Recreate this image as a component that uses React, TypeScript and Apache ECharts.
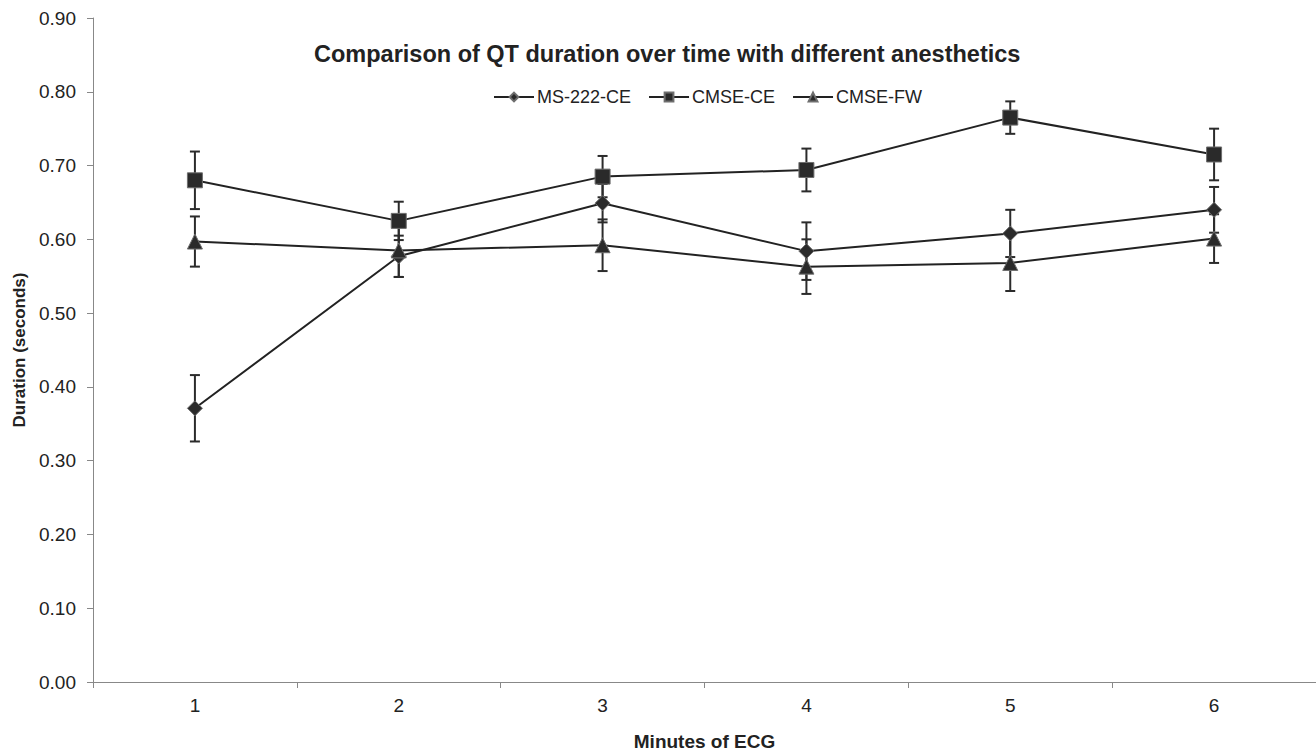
import React, { useEffect, useRef } from "react";
import * as echarts from "echarts";

const categories = ["1", "2", "3", "4", "5", "6"];
const ms222 = [0.371, 0.577, 0.649, 0.584, 0.608, 0.64];
const ms222Err = [0.045, 0.028, 0.026, 0.039, 0.032, 0.031];
const cmseCE = [0.68, 0.625, 0.685, 0.694, 0.765, 0.715];
const cmseCEErr = [0.039, 0.026, 0.028, 0.029, 0.022, 0.035];
const cmseFW = [0.597, 0.585, 0.592, 0.563, 0.568, 0.601];
const cmseFWErr = [0.034, 0.036, 0.035, 0.037, 0.038, 0.033];

const FONT = "'Liberation Sans', Arial, sans-serif";

function errData(vals: number[], errs: number[]) {
  return vals.map((v, i) => [i, v - errs[i], v + errs[i]]);
}

function renderErr(params: any, api: any) {
  const idx = api.value(0);
  const lo = api.coord([idx, api.value(1)]);
  const hi = api.coord([idx, api.value(2)]);
  const cap = 5;
  const style = { stroke: "#2b2b2b", lineWidth: 2 };
  return {
    type: "group",
    children: [
      { type: "line", shape: { x1: lo[0], y1: lo[1], x2: hi[0], y2: hi[1] }, style },
      { type: "line", shape: { x1: hi[0] - cap, y1: hi[1], x2: hi[0] + cap, y2: hi[1] }, style },
      { type: "line", shape: { x1: lo[0] - cap, y1: lo[1], x2: lo[0] + cap, y2: lo[1] }, style },
    ],
  };
}

export default function App() {
  const ref = useRef<HTMLDivElement>(null);
  useEffect(() => {
    document.body.style.margin = "0";
    const chart = echarts.init(ref.current!, null, { renderer: "svg" });
    const markerStyle = { color: "#2a2a2a", borderColor: "#6e6e6e", borderWidth: 1 };
    const lineStyle = { color: "#222", width: 2 };
    const mkLine = (name: string, data: number[], symbol: string, size: number) => ({
      name,
      type: "line",
      data,
      symbol,
      symbolSize: size,
      showAllSymbol: true,
      lineStyle,
      itemStyle: markerStyle,
      z: 3,
    });
    chart.setOption({
      animation: false,
      backgroundColor: "#fff",
      title: {
        text: "Comparison of QT duration over time with different anesthetics",
        left: 309,
        top: 37,
        textStyle: { fontFamily: FONT, fontSize: 23.5, fontWeight: "bold", color: "#222" },
      },
      legend: {
        left: 488,
        top: 83,
        itemWidth: 40,
        itemHeight: 11,
        itemGap: 17,
        textStyle: { fontFamily: FONT, fontSize: 18, color: "#222", padding: [0, 0, 0, -2] },
        data: ["MS-222-CE", "CMSE-CE", "CMSE-FW"],
      },
      grid: { left: 93, right: 0, top: 18, bottom: 70, containLabel: false, outerBoundsMode: "none" },
      xAxis: {
        type: "category",
        data: categories,
        boundaryGap: true,
        name: "Minutes of ECG",
        nameLocation: "middle",
        nameGap: 50,
        nameTextStyle: { fontFamily: FONT, fontSize: 19, fontWeight: "bold", color: "#222" },
        axisLine: { lineStyle: { color: "#888", width: 1 } },
        axisTick: { show: true, length: 6, lineStyle: { color: "#888" } },
        axisLabel: { fontFamily: FONT, fontSize: 19, color: "#222", margin: 14 },
        splitLine: { show: false },
      },
      yAxis: {
        type: "value",
        min: 0,
        max: 0.9,
        interval: 0.1,
        name: "Duration (seconds)",
        nameLocation: "middle",
        nameGap: 65,
        nameRotate: 90,
        nameTextStyle: { fontFamily: FONT, fontSize: 17, fontWeight: "bold", color: "#222" },
        axisLine: { show: true, lineStyle: { color: "#888", width: 1 } },
        axisTick: { show: true, length: 6, lineStyle: { color: "#888" } },
        axisLabel: {
          fontFamily: FONT,
          fontSize: 19,
          color: "#222",
          margin: 17,
          formatter: (v: number) => v.toFixed(2),
        },
        splitLine: { show: false },
      },
      series: [
        mkLine("MS-222-CE", ms222, "diamond", 15),
        mkLine("CMSE-CE", cmseCE, "rect", 15),
        mkLine("CMSE-FW", cmseFW, "triangle", 15),
        { type: "custom", renderItem: renderErr, data: errData(ms222, ms222Err), z: 2, silent: true },
        { type: "custom", renderItem: renderErr, data: errData(cmseCE, cmseCEErr), z: 2, silent: true },
        { type: "custom", renderItem: renderErr, data: errData(cmseFW, cmseFWErr), z: 2, silent: true },
      ],
    });
    return () => chart.dispose();
  }, []);
  return (
    <div
      ref={ref}
      style={{ position: "fixed", left: 0, top: 0, width: 1316, height: 752, background: "#fff" }}
    />
  );
}
